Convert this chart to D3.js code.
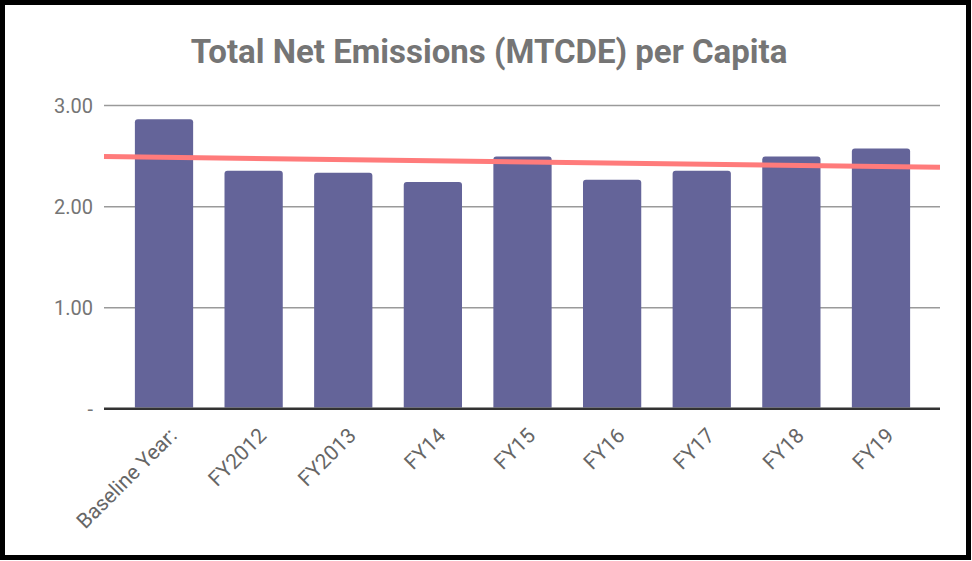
<!DOCTYPE html>
<html><head><meta charset="utf-8">
<script src="https://cdn.jsdelivr.net/npm/d3@7"></script>
<style>html,body{margin:0;padding:0;background:#fff;}svg{display:block;}</style>
</head><body>
<script>
const categories = ["Baseline Year:", "FY2012", "FY2013", "FY14", "FY15", "FY16", "FY17", "FY18", "FY19"];
const values = [2.86, 2.35, 2.33, 2.24, 2.49, 2.26, 2.35, 2.49, 2.57];
const yTicks = [0, 1, 2, 3];
const yTickLabels = ["-", "1.00", "2.00", "3.00"];
const title = "Total Net Emissions (MTCDE) per Capita";

const W = 972, H = 561;
const svg = d3.select("body").append("svg").attr("width", W).attr("height", H);
svg.append("rect").attr("x", 0).attr("y", 0).attr("width", W).attr("height", H).attr("fill", "#fff");

const plotL = 104, plotR = 940;
const y = d3.scaleLinear().domain([0, 3]).range([408.5, 105]);
const x = d3.scaleBand().domain(categories).range([119.2, 925.8]).paddingInner(0.35).paddingOuter(0.175);

// title
svg.append("text").attr("x", 489).attr("y", 63).attr("text-anchor", "middle")
  .attr("font-family", "Roboto, sans-serif").attr("font-weight", 700).attr("font-size", 33)
  .attr("fill", "#757575").text(title);

// gridlines
const yAxis = d3.axisLeft(y).tickValues(yTicks).tickSize(0).tickFormat((d, i) => yTickLabels[i]);
const gy = svg.append("g").attr("transform", `translate(${plotL},0)`).call(yAxis);
gy.select(".domain").remove();
gy.selectAll("text").attr("x", -11).attr("dy", "0.36em")
  .attr("font-family", "Roboto, sans-serif").attr("font-size", 20).attr("fill", "#757575");
gy.selectAll(".tick line").attr("x2", plotR - plotL)
  .attr("stroke", d => d === 0 ? "#333" : "#9a9a9a").attr("stroke-width", d => d === 0 ? 2 : 1.5);

// bars
const r = 3;
svg.append("g").selectAll("path").data(values).join("path")
  .attr("fill", "#646499")
  .attr("d", (d, i) => {
    const x0 = x(categories[i]), w = x.bandwidth(), y0 = y(d), yb = y(0) - 1;
    return `M${x0},${yb}V${y0 + r}Q${x0},${y0} ${x0 + r},${y0}H${x0 + w - r}Q${x0 + w},${y0} ${x0 + w},${y0 + r}V${yb}Z`;
  });

// baseline over bars
svg.append("line").attr("x1", plotL).attr("x2", plotR).attr("y1", y(0)).attr("y2", y(0))
  .attr("stroke", "#333").attr("stroke-width", 2);

// linear trendline (least squares on bar index)
const n = values.length;
const mx = d3.mean(d3.range(n)), my = d3.mean(values);
const slope = d3.sum(values, (v, i) => (i - mx) * (v - my)) / d3.sum(d3.range(n), i => (i - mx) * (i - mx));
const centerOf = i => x(categories[0]) + x.bandwidth() / 2 + i * x.step();
const idxAt = px => (px - centerOf(0)) / x.step();
const trendY = px => y(my + slope * (idxAt(px) - mx));
svg.append("line").attr("x1", plotL).attr("x2", plotR)
  .attr("y1", trendY(plotL)).attr("y2", trendY(plotR))
  .attr("stroke", "#ff7b7b").attr("stroke-width", 5);

// x labels
const gx = svg.append("g");
gx.selectAll("text").data(categories).join("text")
  .attr("transform", (d) => `translate(${x(d) + x.bandwidth() / 2 + 14},${437}) rotate(-45)`)
  .attr("text-anchor", "end")
  .attr("font-family", "Roboto, sans-serif").attr("font-size", 21).attr("fill", "#666")
  .text(d => d);

// frame
svg.append("rect").attr("x", 2.5).attr("y", 2.5).attr("width", W - 6).attr("height", H - 6)
  .attr("fill", "none").attr("stroke", "#000").attr("stroke-width", 5);
</script>
</body></html>
